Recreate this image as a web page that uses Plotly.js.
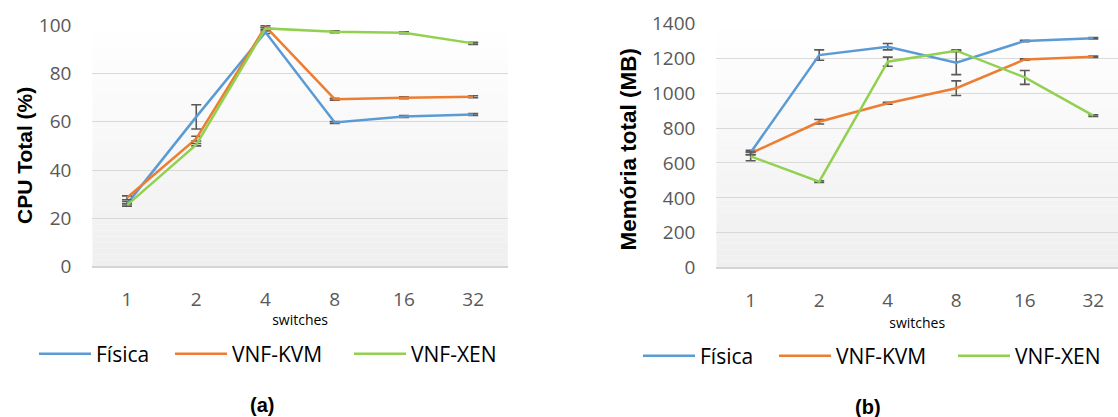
<!DOCTYPE html>
<html>
<head>
<meta charset="utf-8">
<script src="https://cdn.plot.ly/plotly-3.0.1.min.js"></script>
<style>html,body{margin:0;padding:0;background:#fff;}#chart{width:1118px;height:417px;}</style>
</head>
<body>
<div id="chart"></div>
<script>
// ---- data ----
const switchesCats = ["1", "2", "4", "8", "16", "32"];
const seriesNames = ["Física", "VNF-KVM", "VNF-XEN"];

// (a) CPU Total (%)
const cpuFisica    = [26.0, 62.0, 97.0, 59.7, 62.1, 63.0];
const cpuFisicaErr = [1.0, 5.0, 0.5, 0.4, 0.4, 0.4];
const cpuKvm       = [28.5, 53.0, 99.4, 69.3, 69.9, 70.3];
const cpuKvmErr    = [0.8, 1.0, 0.5, 0.4, 0.4, 0.4];
const cpuXen       = [25.5, 50.5, 98.6, 97.2, 96.8, 92.4];
const cpuXenErr    = [0.5, 0.5, 0.5, 0.4, 0.4, 0.4];

// (b) Memória total (MB)
const memFisica    = [660, 1218, 1266, 1174, 1299, 1314];
const memFisicaErr = [12, 30, 18, 68, 4, 4];
const memKvm       = [655, 836, 942, 1028, 1193, 1209];
const memKvmErr    = [8, 13, 6, 42, 4, 4];
const memXen       = [638, 493, 1180, 1243, 1090, 871];
const memXenErr    = [25, 5, 26, 5, 40, 5];

const yTicksCpu = [0, 20, 40, 60, 80, 100];
const yTicksMem = [0, 200, 400, 600, 800, 1000, 1200, 1400];

// ---- style ----
const colors = ["#5B9BD5", "#ED7D31", "#92D050"];
const legendWidths = [69, 112, 96];
const errColor = "#595959";
const tickFont = {family: "Open Sans", size: 19, color: "#595959"};
const W = 1118, H = 417;

function mk(y, err, i, xa, ya, leg) {
  return {
    type: "scatter", mode: "lines",
    x: switchesCats, y: y,
    name: seriesNames[i],
    xaxis: xa, yaxis: ya, legend: leg, legendwidth: legendWidths[i],
    line: {color: colors[i], width: 2.5},
    error_y: {type: "data", array: err, visible: true, color: errColor, thickness: 1.6, width: 5},
    hoverinfo: "skip"
  };
}

const traces = [
  mk(cpuFisica, cpuFisicaErr, 0, "x", "y", "legend"),
  mk(cpuKvm, cpuKvmErr, 1, "x", "y", "legend"),
  mk(cpuXen, cpuXenErr, 2, "x", "y", "legend"),
  mk(memFisica, memFisicaErr, 0, "x2", "y2", "legend2"),
  mk(memKvm, memKvmErr, 1, "x2", "y2", "legend2"),
  mk(memXen, memXenErr, 2, "x2", "y2", "legend2")
];

// gradient plot background (white at top -> light gray at bottom)
function gradientShapes(xref, yref) {
  const n = 40, out = [];
  for (let k = 0; k < n; k++) {
    const t = (k + 0.5) / n; // 0 bottom -> 1 top
    const v = Math.round(239 + (255 - 239) * t);
    out.push({type: "rect", xref: xref, yref: yref, x0: 0, x1: 1,
      y0: k / n, y1: (k + 1) / n, fillcolor: `rgb(${v},${v},${v})`,
      line: {width: 0}, layer: "below"});
  }
  return out;
}

const xCommon = {
  type: "category", showgrid: false, zeroline: false, showline: false,
  ticks: "", tickfont: tickFont, ticklabelstandoff: 19, fixedrange: true
};
const yCommon = {
  showgrid: true, gridcolor: "#d9d9d9", gridwidth: 1,
  zeroline: true, zerolinecolor: "#d4d4d4", zerolinewidth: 2,
  showline: false, ticks: "", tickfont: tickFont, ticklabelstandoff: 20, fixedrange: true
};
const yTitleFont = {family: "Liberation Sans", color: "#000", weight: 700};

const layout = {
  width: W, height: H,
  margin: {l: 0, r: 0, t: 0, b: 0, autoexpand: false},
  paper_bgcolor: "#ffffff", plot_bgcolor: "rgba(0,0,0,0)",
  showlegend: true,
  xaxis: Object.assign({}, xCommon, {
    domain: [92.4 / W, 507.8 / W], anchor: "y", range: [-0.5, 5.5],
    title: {text: "switches", font: {family: "Open Sans", size: 14, color: "#000"}, standoff: 4}
  }),
  yaxis: Object.assign({}, yCommon, {
    domain: [1 - 266.7 / H, 1 - 25 / H], anchor: "x", range: [0, 100],
    tickvals: yTicksCpu
  }),
  xaxis2: Object.assign({}, xCommon, {
    domain: [716.4 / W, 1], anchor: "y2", range: [-0.5, 5.36],
    title: {text: "switches", font: {family: "Open Sans", size: 14, color: "#000"}, standoff: 6}
  }),
  yaxis2: Object.assign({}, yCommon, {
    domain: [1 - 267.7 / H, 1 - 23.3 / H], anchor: "x2", range: [0, 1400],
    tickvals: yTicksMem
  }),
  legend: {
    orientation: "h", x: 34 / W, xanchor: "left", y: 1 - 354 / H, yanchor: "middle",
    font: {family: "Open Sans", size: 21, color: "#000"}, bgcolor: "rgba(0,0,0,0)",
    itemwidth: 52, borderwidth: 0
  },
  legend2: {
    orientation: "h", x: 638 / W, xanchor: "left", y: 1 - 356 / H, yanchor: "middle",
    font: {family: "Open Sans", size: 21, color: "#000"}, bgcolor: "rgba(0,0,0,0)",
    itemwidth: 52, borderwidth: 0
  },
  annotations: [
    {text: "CPU Total (%)", xref: "paper", yref: "paper", x: 24 / W, y: 1 - 156 / H,
     textangle: -90, xanchor: "center", yanchor: "middle", showarrow: false,
     font: Object.assign({size: 21}, yTitleFont)},
    {text: "Memória total (MB)", xref: "paper", yref: "paper", x: 628 / W, y: 1 - 149.5 / H,
     textangle: -90, xanchor: "center", yanchor: "middle", showarrow: false,
     font: Object.assign({size: 22.5}, yTitleFont)},
    {text: "<b>(a)</b>", xref: "paper", yref: "paper", x: 261.7 / W, y: 1 - 405 / H,
     xanchor: "center", yanchor: "middle", showarrow: false,
     font: {family: "Liberation Sans", size: 20, color: "#000"}},
    {text: "<b>(b)</b>", xref: "paper", yref: "paper", x: 868 / W, y: 1 - 407 / H,
     xanchor: "center", yanchor: "middle", showarrow: false,
     font: {family: "Liberation Sans", size: 20, color: "#000"}}
  ],
  shapes: gradientShapes("x domain", "y domain").concat(gradientShapes("x2 domain", "y2 domain"))
};

Plotly.newPlot("chart", traces, layout, {staticPlot: true, displayModeBar: false});
</script>
</body>
</html>
